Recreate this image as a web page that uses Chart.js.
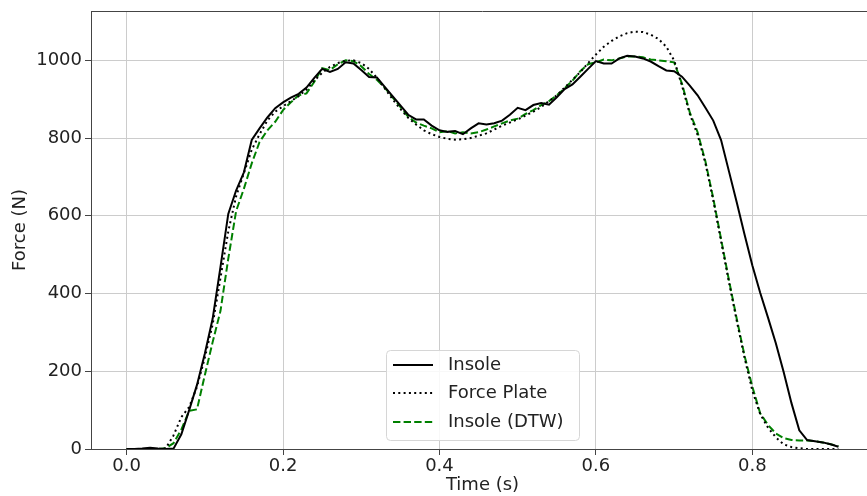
<!DOCTYPE html>
<html>
<head>
<meta charset="utf-8">
<script src="https://cdn.jsdelivr.net/npm/chart.js@4/dist/chart.umd.min.js"></script>
<style>
  html, body { margin: 0; padding: 0; background: #fff; overflow: hidden; }
  canvas { display: block; }
</style>
</head>
<body>
<canvas id="force-chart" width="880" height="496"></canvas>
<script>
// time stamps (s), one sample every 10 ms
const times = [
  0.00, 0.01, 0.02, 0.03, 0.04, 0.05, 0.06, 0.07, 0.08, 0.09,
  0.10, 0.11, 0.12, 0.13, 0.14, 0.15, 0.16, 0.17, 0.18, 0.19,
  0.20, 0.21, 0.22, 0.23, 0.24, 0.25, 0.26, 0.27, 0.28, 0.29,
  0.30, 0.31, 0.32, 0.33, 0.34, 0.35, 0.36, 0.37, 0.38, 0.39,
  0.40, 0.41, 0.42, 0.43, 0.44, 0.45, 0.46, 0.47, 0.48, 0.49,
  0.50, 0.51, 0.52, 0.53, 0.54, 0.55, 0.56, 0.57, 0.58, 0.59,
  0.60, 0.61, 0.62, 0.63, 0.64, 0.65, 0.66, 0.67, 0.68, 0.69,
  0.70, 0.71, 0.72, 0.73, 0.74, 0.75, 0.76, 0.77, 0.78, 0.79,
  0.80, 0.81, 0.82, 0.83, 0.84, 0.85, 0.86, 0.87, 0.88, 0.89,
  0.90, 0.91
];

// force (N)
const insole = [
  0, 0, 1, 3, 1, 0, 1, 38, 100, 165,
  245, 335, 468, 605, 665, 712, 795, 825, 853, 877,
  892, 904, 914, 930, 955, 978, 970, 978, 995, 992,
  975, 957, 956, 932, 908, 884, 860, 848, 848, 832,
  820, 816, 818, 810, 825, 838, 835, 838, 845, 860,
  878, 872, 885, 890, 886, 905, 926, 938, 958, 978,
  998, 992, 992, 1005, 1012, 1010, 1005, 997, 985, 974,
  972, 958, 935, 910, 878, 845, 795, 715, 635, 552,
  472, 402, 338, 272, 198, 118, 48, 23, 20, 17,
  12, 6
];

const forcePlate = [
  0, 0, 0, 0, 0, 2, 35, 82, 108, 160,
  235, 320, 440, 560, 650, 710, 770, 810, 845, 868,
  882, 895, 908, 925, 948, 968, 983, 993, 999, 1000,
  993, 978, 955, 928, 900, 875, 852, 835, 820, 810,
  803, 798, 796, 797, 800, 806, 812, 822, 832, 840,
  848, 858, 868, 880, 895, 910, 930, 950, 970, 993,
  1015, 1035, 1050, 1062, 1070, 1074, 1073, 1066, 1055, 1035,
  1000, 935, 862, 808, 735, 640, 535, 430, 330, 235,
  150, 90, 55, 30, 12, 5, 2, 0, 0, 0,
  0, 0
];

const insoleDTW = [
  0, 0, 0, 0, 0, 2, 15, 50, 98, 102,
  190, 275, 355, 490, 612, 670, 735, 790, 820, 842,
  872, 892, 910, 915, 945, 980, 975, 990, 1000, 998,
  985, 965, 950, 930, 905, 880, 855, 840, 832, 825,
  815, 818, 812, 815, 812, 815, 822, 830, 838, 845,
  850, 862, 872, 885, 895, 910, 928, 948, 972, 990,
  995, 1002, 1000, 1005, 1010, 1010, 1008, 1002, 1000, 998,
  995, 940, 866, 815, 740, 645, 540, 435, 335, 240,
  160, 92, 62, 40, 28, 23, 22, 22, 20, 17,
  12, 7
];

const xTicks = [0.0, 0.2, 0.4, 0.6, 0.8];
const yTicks = [0, 200, 400, 600, 800, 1000];

const FONT = 'DejaVu Sans';
const toPoints = (vals) => vals.map((v, i) => ({ x: times[i], y: v }));

// top spine (matplotlib style box) and the legend inside the axes
const framePlugin = {
    id: 'frame',
    afterDraw(chart) {
        const { ctx, chartArea } = chart;
        ctx.save();
        ctx.strokeStyle = '#444';
        ctx.lineWidth = 1;
        ctx.beginPath();
        ctx.moveTo(chartArea.left, chartArea.top + 0.5);
        ctx.lineTo(chartArea.right, chartArea.top + 0.5);
        ctx.stroke();

        // legend box
        const bx = 386, by = 350, bw = 193, bh = 90, r = 4;
        ctx.fillStyle = 'rgba(255,255,255,0.85)';
        ctx.strokeStyle = '#d6d6d6';
        ctx.beginPath();
        ctx.roundRect(bx + 0.5, by + 0.5, bw, bh, r);
        ctx.fill();
        ctx.stroke();

        const rows = [365, 393, 422];
        chart.data.datasets.forEach((ds, i) => {
            const y = rows[i];
            ctx.strokeStyle = ds.borderColor;
            ctx.lineWidth = ds.borderWidth;
            ctx.setLineDash(ds.borderDash || []);
            ctx.beginPath();
            ctx.moveTo(393, y);
            ctx.lineTo(433, y);
            ctx.stroke();
            ctx.setLineDash([]);
            ctx.fillStyle = '#222';
            ctx.font = '18px "' + FONT + '"';
            ctx.textBaseline = 'middle';
            ctx.fillText(ds.label, 448, y);
        });
        ctx.restore();
    }
};

const ctx = document.getElementById('force-chart').getContext('2d');
new Chart(ctx, {
    type: 'line',
    data: {
        datasets: [
            {
                label: 'Insole',
                data: toPoints(insole),
                borderColor: '#000000',
                borderWidth: 2,
            },
            {
                label: 'Force Plate',
                data: toPoints(forcePlate),
                borderColor: '#000000',
                borderWidth: 2,
                borderDash: [2, 3.3],
            },
            {
                label: 'Insole (DTW)',
                data: toPoints(insoleDTW),
                borderColor: '#008000',
                borderWidth: 2,
                borderDash: [7.4, 3.2],
            }
        ]
    },
    options: {
        responsive: false,
        animation: false,
        devicePixelRatio: 1,
        layout: { padding: { top: 11, right: 6, left: 0, bottom: 0 } },
        elements: {
            point: { radius: 0 },
            line: { tension: 0, fill: false, borderCapStyle: 'butt' }
        },
        plugins: {
            legend: { display: false },
            tooltip: { enabled: false }
        },
        scales: {
            x: {
                type: 'linear',
                min: -0.0455,
                max: 0.9555,
                afterBuildTicks: (scale) => { scale.ticks = xTicks.map(v => ({ value: v })); },
                afterFit: (scale) => {
                    scale.height = 47;
                    scale.paddingLeft = 0;
                    scale.paddingRight = 0;
                },
                ticks: {
                    callback: (v) => v.toFixed(1),
                    font: { family: FONT, size: 18 },
                    color: '#222',
                    padding: 1,
                    maxRotation: 0,
                    autoSkip: false
                },
                grid: { color: '#cccccc', tickColor: '#444', tickLength: 6, lineWidth: 1 },
                border: { color: '#444', width: 1 },
                title: {
                    display: true,
                    text: 'Time (s)',
                    font: { family: FONT, size: 18 },
                    color: '#222',
                    padding: { top: 0, bottom: 0 }
                }
            },
            y: {
                type: 'linear',
                min: 0,
                max: 1127,
                afterBuildTicks: (scale) => { scale.ticks = yTicks.map(v => ({ value: v })); },
                afterFit: (scale) => {
                    scale.width = 91;
                    scale.paddingTop = 0;
                    scale.paddingBottom = 0;
                },
                ticks: {
                    callback: (v) => String(v),
                    font: { family: FONT, size: 18 },
                    color: '#222',
                    padding: 3,
                    autoSkip: false
                },
                grid: { color: '#cccccc', tickColor: '#444', tickLength: 6, lineWidth: 1 },
                border: { color: '#444', width: 1 },
                title: {
                    display: true,
                    text: 'Force (N)',
                    font: { family: FONT, size: 18 },
                    color: '#222',
                    padding: { top: 10, bottom: 0 }
                }
            }
        }
    },
    plugins: [framePlugin]
});
</script>
</body>
</html>
